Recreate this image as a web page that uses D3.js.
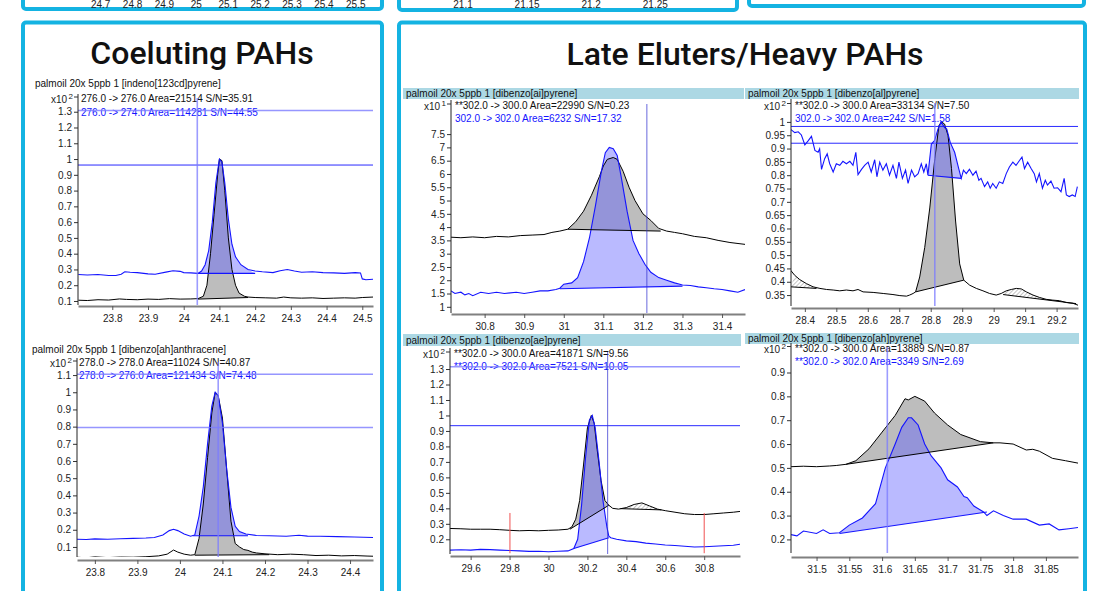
<!DOCTYPE html>
<html>
<head>
<meta charset="utf-8">
<script src="https://cdn.jsdelivr.net/npm/d3@7"></script>
<style>
  body { margin: 0; background: #fff; }
  svg { display: block; }
  .tick text { font-family: "Liberation Sans", Arial, sans-serif; font-size: 10px; fill: #222; }
  .lbl { font-family: "Liberation Sans", Arial, sans-serif; font-size: 10px; }
  .big { font-family: Roboto, "Noto Sans", sans-serif; font-weight: 500; font-size: 32px; fill: #111; }
</style>
</head>
<body>
<div id="chart"></div>
<script>
// ---- data: [retention time, counts] ----
var indenoBlack = [[23.705,0.105],[23.73,0.103],[23.76,0.108],[23.79,0.106],[23.82,0.113],[23.84,0.11],[23.87,0.108],[23.9,0.112],[23.93,0.11],[23.96,0.115],[23.99,0.112],[24.02,0.113],[24.04,0.115],[24.055,0.13],[24.065,0.2],[24.075,0.4],[24.085,0.65],[24.095,0.9],[24.1,1.0],[24.107,0.99],[24.115,0.8],[24.125,0.5],[24.135,0.3],[24.145,0.2],[24.155,0.15],[24.17,0.13],[24.18,0.125],[24.2,0.122],[24.23,0.12],[24.26,0.118],[24.28,0.125],[24.3,0.12],[24.33,0.118],[24.36,0.12],[24.39,0.116],[24.42,0.118],[24.45,0.12],[24.48,0.118],[24.5,0.122],[24.53,0.125]];
var indenoBlue = [[23.705,0.268],[23.73,0.265],[23.76,0.268],[23.79,0.262],[23.81,0.262],[23.825,0.27],[23.835,0.285],[23.85,0.282],[23.87,0.28],[23.9,0.272],[23.92,0.27],[23.95,0.283],[23.97,0.292],[23.99,0.288],[24.0,0.28],[24.02,0.278],[24.04,0.275],[24.05,0.29],[24.06,0.33],[24.07,0.42],[24.08,0.6],[24.09,0.85],[24.1,1.0],[24.107,0.98],[24.115,0.85],[24.125,0.62],[24.135,0.46],[24.145,0.38],[24.16,0.33],[24.18,0.3],[24.2,0.29],[24.22,0.285],[24.25,0.28],[24.27,0.292],[24.29,0.3],[24.31,0.29],[24.33,0.282],[24.36,0.285],[24.39,0.28],[24.42,0.278],[24.45,0.275],[24.48,0.28],[24.495,0.278],[24.5,0.24],[24.51,0.235],[24.53,0.238]];

var dbahaBlack = [[23.758,0.04],[23.78,0.037],[23.8,0.042],[23.83,0.038],[23.86,0.041],[23.89,0.04],[23.92,0.043],[23.95,0.048],[23.97,0.058],[23.985,0.082],[23.995,0.07],[24.01,0.058],[24.025,0.052],[24.035,0.055],[24.045,0.15],[24.055,0.35],[24.065,0.62],[24.075,0.88],[24.083,1.0],[24.09,0.98],[24.1,0.85],[24.11,0.55],[24.12,0.25],[24.13,0.12],[24.14,0.1],[24.15,0.085],[24.16,0.08],[24.17,0.07],[24.18,0.065],[24.2,0.06],[24.23,0.055],[24.26,0.058],[24.29,0.055],[24.32,0.05],[24.35,0.052],[24.38,0.048],[24.41,0.05],[24.44,0.047],[24.454,0.046]];
var dbahaBlue = [[23.758,0.145],[23.78,0.143],[23.8,0.147],[23.83,0.145],[23.86,0.148],[23.89,0.15],[23.92,0.152],[23.94,0.155],[23.96,0.17],[23.975,0.195],[23.985,0.203],[23.995,0.195],[24.01,0.175],[24.025,0.162],[24.035,0.17],[24.045,0.28],[24.055,0.45],[24.065,0.7],[24.075,0.92],[24.083,1.0],[24.09,0.98],[24.1,0.82],[24.11,0.55],[24.12,0.33],[24.13,0.22],[24.14,0.19],[24.155,0.175],[24.18,0.167],[24.21,0.165],[24.25,0.162],[24.28,0.168],[24.3,0.163],[24.33,0.162],[24.37,0.16],[24.41,0.158],[24.454,0.155]];

var dbaiBlack = [[30.715,3.62],[30.74,3.6],[30.77,3.63],[30.8,3.6],[30.83,3.65],[30.86,3.63],[30.89,3.68],[30.92,3.7],[30.95,3.72],[30.97,3.8],[30.99,3.85],[31.01,3.92],[31.03,4.2],[31.05,4.6],[31.07,5.2],[31.09,5.9],[31.1,6.3],[31.11,6.55],[31.125,6.62],[31.135,6.55],[31.15,6.1],[31.165,5.5],[31.18,5.0],[31.2,4.5],[31.22,4.25],[31.24,3.95],[31.26,3.85],[31.28,3.8],[31.3,3.75],[31.33,3.65],[31.36,3.6],[31.39,3.5],[31.42,3.42],[31.458,3.35]];
var dbaiBlue = [[30.715,1.6],[30.725,1.5],[30.74,1.55],[30.75,1.45],[30.76,1.5],[30.77,1.42],[30.79,1.55],[30.81,1.5],[30.83,1.55],[30.85,1.5],[30.88,1.55],[30.9,1.5],[30.92,1.55],[30.94,1.6],[30.96,1.6],[30.98,1.65],[30.99,1.7],[31.0,1.85],[31.02,1.9],[31.035,2.1],[31.05,2.7],[31.065,3.6],[31.08,4.8],[31.095,6.1],[31.105,6.8],[31.115,7.0],[31.125,6.95],[31.135,6.7],[31.145,5.9],[31.16,4.6],[31.175,3.5],[31.19,3.0],[31.205,2.6],[31.22,2.3],[31.24,2.1],[31.26,2.0],[31.28,1.9],[31.3,1.82],[31.32,1.8],[31.34,1.75],[31.36,1.72],[31.38,1.68],[31.4,1.65],[31.42,1.6],[31.44,1.55],[31.458,1.65]];

var dbalBlack = [[28.355,0.443],[28.368,0.424],[28.384,0.408],[28.405,0.393],[28.426,0.381],[28.448,0.375],[28.469,0.371],[28.49,0.369],[28.511,0.366],[28.532,0.369],[28.553,0.366],[28.569,0.371],[28.585,0.362],[28.617,0.36],[28.649,0.356],[28.68,0.352],[28.702,0.348],[28.723,0.346],[28.733,0.35],[28.744,0.356],[28.752,0.362],[28.765,0.418],[28.781,0.529],[28.797,0.677],[28.813,0.862],[28.826,0.986],[28.834,1.0],[28.844,0.992],[28.855,0.949],[28.866,0.825],[28.879,0.628],[28.892,0.467],[28.905,0.406],[28.924,0.387],[28.945,0.375],[28.966,0.366],[28.987,0.356],[29.008,0.35],[29.024,0.356],[29.04,0.366],[29.056,0.371],[29.072,0.375],[29.088,0.373],[29.104,0.362],[29.125,0.35],[29.146,0.341],[29.167,0.334],[29.188,0.331],[29.209,0.329],[29.231,0.322],[29.252,0.319],[29.268,0.312]];
var dbalBlue = [[28.354,0.973],[28.368,0.96],[28.379,0.963],[28.389,0.951],[28.4,0.914],[28.411,0.93],[28.421,0.946],[28.432,0.893],[28.442,0.886],[28.447,0.899],[28.453,0.822],[28.463,0.862],[28.471,0.88],[28.479,0.843],[28.49,0.812],[28.5,0.843],[28.511,0.837],[28.521,0.852],[28.532,0.843],[28.543,0.852],[28.553,0.837],[28.562,0.886],[28.569,0.802],[28.58,0.822],[28.59,0.837],[28.601,0.849],[28.611,0.812],[28.622,0.858],[28.629,0.794],[28.638,0.849],[28.648,0.819],[28.659,0.843],[28.669,0.8],[28.68,0.837],[28.691,0.788],[28.699,0.849],[28.71,0.788],[28.72,0.819],[28.728,0.769],[28.739,0.819],[28.749,0.794],[28.76,0.806],[28.77,0.843],[28.778,0.812],[28.786,0.843],[28.791,0.8],[28.802,0.917],[28.812,0.93],[28.823,0.973],[28.833,1.0],[28.844,0.979],[28.851,0.973],[28.862,0.923],[28.876,0.886],[28.889,0.825],[28.897,0.788],[28.904,0.819],[28.913,0.806],[28.923,0.822],[28.934,0.8],[28.944,0.815],[28.953,0.781],[28.96,0.788],[28.971,0.757],[28.981,0.775],[28.989,0.751],[28.997,0.769],[29.008,0.751],[29.018,0.775],[29.029,0.769],[29.04,0.806],[29.05,0.831],[29.061,0.849],[29.071,0.837],[29.082,0.855],[29.09,0.868],[29.098,0.825],[29.108,0.849],[29.119,0.825],[29.129,0.806],[29.136,0.775],[29.145,0.806],[29.155,0.751],[29.164,0.781],[29.171,0.763],[29.182,0.778],[29.192,0.751],[29.203,0.753],[29.214,0.738],[29.224,0.788],[29.231,0.726],[29.24,0.72],[29.25,0.726],[29.259,0.72],[29.266,0.757]];

var dbaeBlack = [[29.494,0.27],[29.55,0.268],[29.6,0.265],[29.65,0.265],[29.7,0.265],[29.75,0.262],[29.8,0.258],[29.85,0.255],[29.9,0.257],[29.95,0.255],[30.0,0.258],[30.05,0.26],[30.1,0.265],[30.12,0.28],[30.14,0.33],[30.16,0.45],[30.18,0.68],[30.2,0.92],[30.22,1.0],[30.235,0.95],[30.25,0.78],[30.27,0.58],[30.29,0.45],[30.31,0.42],[30.33,0.4],[30.36,0.395],[30.4,0.405],[30.44,0.425],[30.48,0.435],[30.52,0.415],[30.56,0.395],[30.6,0.385],[30.65,0.375],[30.7,0.365],[30.75,0.36],[30.8,0.36],[30.85,0.365],[30.9,0.37],[30.95,0.375],[30.984,0.38]];
var dbaeBlue = [[29.494,0.13],[29.55,0.132],[29.6,0.13],[29.65,0.135],[29.7,0.133],[29.75,0.13],[29.8,0.128],[29.85,0.125],[29.9,0.122],[29.95,0.123],[30.0,0.12],[30.05,0.123],[30.1,0.125],[30.13,0.14],[30.15,0.2],[30.17,0.42],[30.19,0.72],[30.21,0.97],[30.225,1.0],[30.24,0.92],[30.26,0.7],[30.28,0.45],[30.3,0.28],[30.31,0.22],[30.32,0.21],[30.35,0.2],[30.4,0.19],[30.45,0.185],[30.5,0.175],[30.55,0.17],[30.6,0.163],[30.65,0.16],[30.7,0.155],[30.75,0.15],[30.8,0.152],[30.85,0.155],[30.9,0.158],[30.95,0.162],[30.984,0.168]];

var dbahpBlack = [[31.461,0.505],[31.48,0.507],[31.5,0.505],[31.52,0.508],[31.53,0.51],[31.545,0.515],[31.56,0.53],[31.58,0.58],[31.6,0.65],[31.62,0.72],[31.635,0.79],[31.64,0.785],[31.65,0.8],[31.665,0.78],[31.68,0.73],[31.7,0.68],[31.72,0.64],[31.75,0.61],[31.77,0.605],[31.78,0.605],[31.8,0.6],[31.82,0.575],[31.83,0.578],[31.84,0.57],[31.86,0.54],[31.88,0.53],[31.899,0.52]];
var dbahpBlue = [[31.461,0.22],[31.47,0.215],[31.48,0.235],[31.5,0.225],[31.51,0.24],[31.52,0.225],[31.535,0.228],[31.55,0.26],[31.57,0.29],[31.59,0.35],[31.605,0.5],[31.62,0.6],[31.63,0.67],[31.64,0.71],[31.645,0.71],[31.655,0.68],[31.665,0.6],[31.675,0.55],[31.69,0.5],[31.7,0.45],[31.715,0.42],[31.725,0.38],[31.73,0.375],[31.74,0.34],[31.755,0.315],[31.76,0.3],[31.77,0.32],[31.785,0.3],[31.8,0.285],[31.82,0.285],[31.84,0.26],[31.855,0.265],[31.87,0.24],[31.885,0.245],[31.899,0.25]];

// integration baselines: [start], [end]
var indenoFill = {black: [[24.04,0.112],[24.18,0.122]], blue: [[24.04,0.275],[24.2,0.275]]};
var dbahaFill = {black: [[24.035,0.052],[24.21,0.055]], blue: [[24.03,0.165],[24.16,0.165]]};
var dbaiFill = {black: [[31.01,3.92],[31.245,3.85]], blue: [[30.99,1.68],[31.3,1.78]]};
var dbalFill = {black: [[28.752,0.362],[28.905,0.406]], blue: [[28.791,0.8],[28.897,0.788]]};
var dbaeFill = {black: [[30.11,0.265],[30.31,0.42]], blue: [[30.13,0.14],[30.31,0.21]]};
var dbahpFill = {black: [[31.545,0.515],[31.77,0.605]], blue: [[31.535,0.225],[31.76,0.315]]};
var dbalHatch = [[[28.355,0.381],[28.437,0.375]], [[29.03,0.352],[29.262,0.318]]];
var dbaeHatch = [[[30.37,0.398],[30.58,0.39]]];
var dbaeRedMarks = [29.802, 30.80];

// axis ticks
var indenoXTicks = [23.8,23.9,24,24.1,24.2,24.3,24.4,24.5];
var indenoYTicks = [0.1,0.2,0.3,0.4,0.5,0.6,0.7,0.8,0.9,1,1.1,1.2,1.3];
var dbahaXTicks = [23.8,23.9,24,24.1,24.2,24.3,24.4];
var dbahaYTicks = [0.1,0.2,0.3,0.4,0.5,0.6,0.7,0.8,0.9,1,1.1];
var dbaiXTicks = [30.8,30.9,31,31.1,31.2,31.3,31.4];
var dbaiYTicks = [1,1.5,2,2.5,3,3.5,4,4.5,5,5.5,6,6.5,7,7.5];
var dbalXTicks = [28.4,28.5,28.6,28.7,28.8,28.9,29,29.1,29.2];
var dbalYTicks = [0.35,0.4,0.45,0.5,0.55,0.6,0.65,0.7,0.75,0.8,0.85,0.9,0.95,1];
var dbaeXTicks = [29.6,29.8,30,30.2,30.4,30.6,30.8];
var dbaeYTicks = [0.2,0.3,0.4,0.5,0.6,0.7,0.8,0.9,1,1.1,1.2,1.3];
var dbahpXTicks = [31.5,31.55,31.6,31.65,31.7,31.75,31.8,31.85];
var dbahpYTicks = [0.2,0.3,0.4,0.5,0.6,0.7,0.8,0.9];
var topLeftTicks = [24.7,24.8,24.9,25,25.1,25.2,25.3,25.4,25.5];
var topMidTicks = [21.1,21.15,21.2,21.25];

var W = 1097, H = 591;
var BLUE = '#1414ff', LAV = '#7c7cff';

var svg = d3.select('#chart').append('svg').attr('width', W).attr('height', H);
var defs = svg.append('defs');
defs.append('pattern').attr('id', 'hatch').attr('patternUnits', 'userSpaceOnUse')
  .attr('width', 3).attr('height', 3).attr('patternTransform', 'rotate(45)')
  .append('line').attr('x1', 0).attr('y1', 0).attr('x2', 0).attr('y2', 3)
  .attr('stroke', '#8a8a8a').attr('stroke-width', 1);

function fmt(d) { return String(+d.toFixed(3)); }

//frames
function frame(x, y, w, h) {
  svg.append('rect').attr('x', x).attr('y', y).attr('width', w).attr('height', h)
    .attr('rx', 3).attr('fill', 'none').attr('stroke', '#14b3e2').attr('stroke-width', 4);
}
frame(23, -30, 359, 39);
frame(399, -30, 338, 40);
frame(749, -30, 335, 36);
frame(23, 22.5, 359, 600);
frame(399, 22.5, 686, 600);

svg.append('text').attr('class', 'big').attr('x', 202).attr('y', 63.5).attr('text-anchor', 'middle').text('Coeluting PAHs');
svg.append('text').attr('class', 'big').attr('x', 745).attr('y', 65).attr('text-anchor', 'middle').text('Late Eluters/Heavy PAHs');

// the cut-off axes of the panels above
function stripAxis(ticks, dom, r0, r1, yBase) {
  var sx = d3.scaleLinear().domain(dom).range([r0, r1]);
  svg.append('g').selectAll('text').data(ticks).enter().append('text')
    .attr('class', 'lbl').attr('fill', '#222').attr('text-anchor', 'middle')
    .attr('x', function(d) { return sx(d); }).attr('y', yBase).text(fmt);
}
stripAxis(topLeftTicks, [24.632, 25.554], 79, 373, 7.5);
stripAxis(topMidTicks, [21.0906, 21.32], 451, 745, 8);

var panels = [
  {name: 'palmoil 20x 5ppb 1 [indeno[123cd]pyrene]', band: null, tx: 35, ty: 87,
   x0: 78, x1: 373, yT: 98, yB: 305, axY: 306, xDom: [23.704, 24.53], yDom: [0.0746, 1.387],
   xt: indenoXTicks, yt: indenoYTicks, exp: '2', black: indenoBlack, blue: indenoBlue, fill: indenoFill,
   leg: ['276.0 -> 276.0 Area=21514 S/N=35.91', '276.0 -> 274.0 Area=114281 S/N=44.55'], lx: 81, ly: [102, 116],
   hLav: [1.308], hBlue: [0.962], vLav: [24.038], vBlue: []},
  {name: 'palmoil 20x 5ppb 1 [dibenzo[ah]anthracene]', band: null, tx: 32, ty: 353,
   x0: 77, x1: 373, yT: 362, yB: 557, axY: 560, xDom: [23.758, 24.454], yDom: [0.0415, 1.176],
   xt: dbahaXTicks, yt: dbahaYTicks, exp: '2', black: dbahaBlack, blue: dbahaBlue, fill: dbahaFill,
   leg: ['278.0 -> 278.0 Area=11024 S/N=40.87', '278.0 -> 276.0 Area=121434 S/N=74.48'], lx: 79, ly: [366, 379],
   hLav: [1.105, 0.795], hBlue: [], vLav: [24.09], vBlue: []},
  {name: 'palmoil 20x 5ppb 1 [dibenzo[ai]pyrene]', band: [403, 88, 341, 11], tx: 406, ty: 96.5,
   x0: 451, x1: 745, yT: 104, yB: 313, axY: 314, xDom: [30.715, 31.458], yDom: [0.767, 8.633],
   xt: dbaiXTicks, yt: dbaiYTicks, exp: '1', black: dbaiBlack, blue: dbaiBlue, fill: dbaiFill,
   leg: ['**302.0 -> 300.0 Area=22990 S/N=0.23', '302.0 -> 302.0 Area=6232 S/N=17.32'], lx: 455, ly: [109, 122],
   hLav: [], hBlue: [], vLav: [], vBlue: [31.21]},
  {name: 'palmoil 20x 5ppb 1 [dibenzo[al]pyrene]', band: [745, 88, 334, 11], tx: 748, ty: 96.5,
   x0: 791, x1: 1078, yT: 103, yB: 306, axY: 308, xDom: [28.356, 29.268], yDom: [0.309, 1.071],
   xt: dbalXTicks, yt: dbalYTicks, exp: '2', black: dbalBlack, blue: dbalBlue, fill: dbalFill, hatch: dbalHatch,
   leg: ['**302.0 -> 300.0 Area=33134 S/N=7.50', '302.0 -> 302.0 Area=242 S/N=1.58'], lx: 795, ly: [108.5, 122],
   hLav: [], hBlue: [0.983, 0.92], vLav: [28.813], vBlue: []},
  {name: 'palmoil 20x 5ppb 1 [dibenzo[ae]pyrene]', band: [403, 334, 338, 12], tx: 406, ty: 344,
   x0: 450, x1: 740, yT: 352, yB: 554, axY: 556, xDom: [29.494, 30.984], yDom: [0.105, 1.41],
   xt: dbaeXTicks, yt: dbaeYTicks, exp: '2', black: dbaeBlack, blue: dbaeBlue, fill: dbaeFill, hatch: dbaeHatch, red: dbaeRedMarks,
   leg: ['**302.0 -> 300.0 Area=41871 S/N=9.56', '**302.0 -> 302.0 Area=7521 S/N=10.05'], lx: 454, ly: [357, 369.5],
   hLav: [1.315], hBlue: [0.934], vLav: [], vBlue: [30.304]},
  {name: 'palmoil 20x 5ppb 1 [dibenzo[ah]pyrene]', band: [745, 333, 334, 11], tx: 748, ty: 341.5,
   x0: 791, x1: 1078, yT: 347, yB: 553, axY: 557, xDom: [31.461, 31.899], yDom: [0.143, 1.007],
   xt: dbahpXTicks, yt: dbahpYTicks, exp: '2', black: dbahpBlack, blue: dbahpBlue, fill: dbahpFill,
   leg: ['**302.0 -> 300.0 Area=13889 S/N=0.87', '**302.0 -> 302.0 Area=3349 S/N=2.69'], lx: 795, ly: [351.5, 365],
   hLav: [], hBlue: [], vLav: [31.608], vBlue: []}
];

panels.forEach(function(p, i) {
  var g = svg.append('g');
  var x = d3.scaleLinear().domain(p.xDom).range([p.x0, p.x1]);
  var y = d3.scaleLinear().domain(p.yDom).range([p.yB, p.yT]);

  if (p.band) {
    g.append('rect').attr('x', p.band[0]).attr('y', p.band[1]).attr('width', p.band[2]).attr('height', p.band[3]).attr('fill', '#acd8e4');
  }
  g.append('text').attr('class', 'lbl').attr('x', p.tx).attr('y', p.ty).attr('fill', '#111').text(p.name);

  var cid = 'clip' + i;
  defs.append('clipPath').attr('id', cid).append('rect')
    .attr('x', p.x0).attr('y', p.yT - 10).attr('width', p.x1 - p.x0).attr('height', p.yB - p.yT + 10);
  var plot = g.append('g').attr('clip-path', 'url(#' + cid + ')');

  function region(trace, seg, fillCol) {
    var a = seg[0], b = seg[1];
    var base = function(t) { return a[1] + (b[1] - a[1]) * (t - a[0]) / (b[0] - a[0]); };
    var pts = [a].concat(trace.filter(function(d) { return d[0] > a[0] && d[0] < b[0]; }), [b]);
    var area = d3.area()
      .x(function(d) { return x(d[0]); })
      .y0(function(d) { return y(base(d[0])); })
      .y1(function(d) { return y(d[1]); });
    plot.append('path').attr('d', area(pts)).attr('fill', fillCol).attr('stroke', 'none');
  }

  region(p.black, p.fill.black, '#bdbdbd');
  (p.hatch || []).forEach(function(seg) { region(p.black, seg, 'url(#hatch)'); });
  region(p.blue, p.fill.blue, 'rgba(90,90,255,0.42)');

  var line = d3.line().x(function(d) { return x(d[0]); }).y(function(d) { return y(d[1]); });
  plot.append('path').attr('d', line(p.black)).attr('fill', 'none').attr('stroke', '#000').attr('stroke-width', 1);
  plot.append('path').attr('d', line(p.blue)).attr('fill', 'none').attr('stroke', BLUE).attr('stroke-width', 1.1);

  plot.append('path').attr('d', line(p.fill.black)).attr('stroke', '#000').attr('stroke-width', 1);
  (p.hatch || []).forEach(function(seg) {
    plot.append('path').attr('d', line(seg)).attr('stroke', '#000').attr('stroke-width', 1);
  });
  plot.append('path').attr('d', line(p.fill.blue)).attr('stroke', BLUE).attr('stroke-width', 1.1);

  (p.red || []).forEach(function(t) {
    plot.append('line').attr('x1', x(t)).attr('x2', x(t)).attr('y1', y(0.37)).attr('y2', y(0.11))
      .attr('stroke', '#f05050').attr('stroke-width', 1);
  });

  // legend
  g.append('text').attr('class', 'lbl').attr('x', p.lx).attr('y', p.ly[0]).attr('fill', '#111').text(p.leg[0]);
  g.append('text').attr('class', 'lbl').attr('x', p.lx).attr('y', p.ly[1]).attr('fill', BLUE).text(p.leg[1]);

  // cursor lines
  p.hLav.concat(p.hBlue).forEach(function(v, k) {
    var lav = k < p.hLav.length;
    g.append('line').attr('x1', p.x0).attr('x2', p.x1).attr('y1', y(v)).attr('y2', y(v))
      .attr('stroke', lav ? LAV : BLUE).attr('stroke-width', lav ? 1.6 : 1).attr('opacity', lav ? 0.8 : 0.9);
  });
  p.vLav.concat(p.vBlue).forEach(function(t, k) {
    var lav = k < p.vLav.length;
    g.append('line').attr('x1', x(t)).attr('x2', x(t)).attr('y1', p.yT).attr('y2', p.yB)
      .attr('stroke', lav ? LAV : '#3030d0').attr('stroke-width', lav ? 1.6 : 0.8).attr('opacity', lav ? 0.75 : 0.9);
  });

  // axes
  var ya = g.append('g').attr('transform', 'translate(' + p.x0 + ',0)')
    .call(d3.axisLeft(y).tickValues(p.yt).tickFormat(fmt).tickSize(4).tickSizeOuter(0).tickPadding(2));
  ya.select('.domain').remove();
  ya.selectAll('.tick line').attr('stroke', '#333');
  g.append('line').attr('x1', p.x0).attr('x2', p.x0).attr('y1', p.yT - 4).attr('y2', p.yB)
    .attr('stroke', '#222').attr('stroke-width', 1);

  var xa = g.append('g').attr('transform', 'translate(0,' + p.axY + ')')
    .call(d3.axisBottom(x).tickValues(p.xt).tickFormat(fmt).tickSize(4).tickSizeOuter(0).tickPadding(5));
  xa.select('.domain').attr('stroke', '#808080').attr('stroke-width', 2);
  xa.selectAll('.tick line').attr('stroke', '#555');

  // x10^n marker
  var my = p.ly[0] - 5;
  g.append('line').attr('x1', p.x0 - 4).attr('x2', p.x0).attr('y1', my).attr('y2', my).attr('stroke', '#333');
  g.append('text').attr('class', 'lbl').attr('x', p.x0 - 11).attr('y', p.ly[0] + 1)
    .attr('text-anchor', 'end').attr('fill', '#222').text('x10');
  g.append('text').attr('x', p.x0 - 9.5).attr('y', p.ly[0] - 3).attr('font-size', 8)
    .attr('font-family', '"Liberation Sans", Arial, sans-serif').attr('fill', '#222').text(p.exp);
});
</script>
</body>
</html>
